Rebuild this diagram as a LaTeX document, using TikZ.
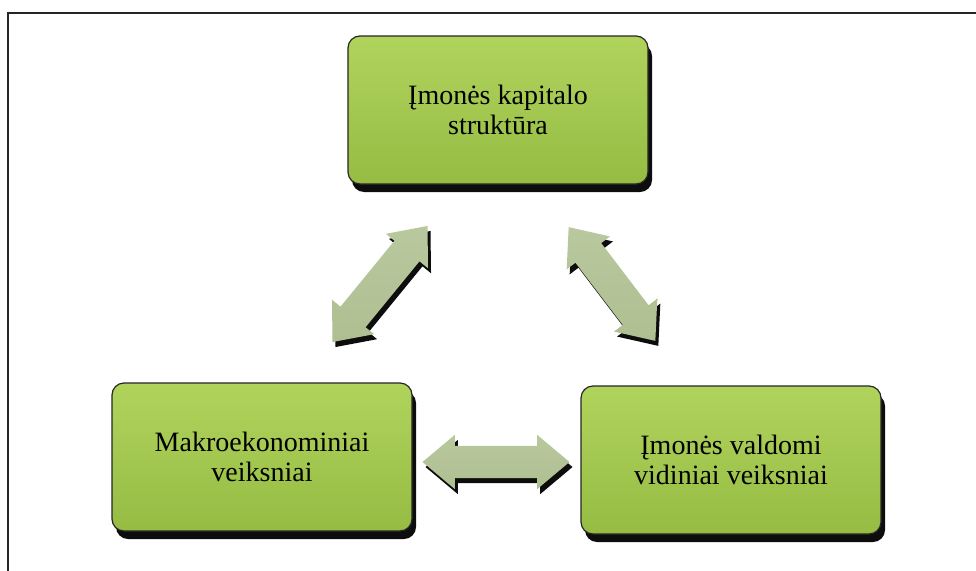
\documentclass[tikz,border=0pt]{standalone}
\usepackage{fontspec}
\setmainfont{Liberation Serif}
\newfontfamily\boxfont{Liberation Serif}
\usetikzlibrary{shapes.arrows,shadows}
\definecolor{boxtop}{HTML}{B0D35C}
\definecolor{boxmid}{HTML}{A5CA51}
\definecolor{boxbot}{HTML}{96BC44}
\definecolor{arrtop}{HTML}{B9C89E}
\definecolor{arrmid}{HTML}{E6EED8}
\definecolor{arrbot}{HTML}{AEBF91}
\begin{document}
\begin{tikzpicture}[x=1pt,y=-1pt,
  factor/.style={draw=black!85, line width=1.2pt, rounded corners=12pt,
    minimum width=300pt, minimum height=148pt, align=center,
    font=\boxfont\fontsize{28}{30}\selectfont,
    top color=boxtop, middle color=boxmid, bottom color=boxbot,
    drop shadow={shadow xshift=4pt, shadow yshift=-8pt, fill=black, opacity=0.95}},
  fat/.style={double arrow, double arrow head extend=11pt, double arrow tip angle=80,
    inner xsep=0pt, inner ysep=16pt, draw=none,
    top color=arrtop, middle color=arrmid, bottom color=arrbot,
    drop shadow={shadow xshift=3pt, shadow yshift=-5pt, fill=black, opacity=0.95}}]
\useasboundingbox (0,0) rectangle (976,570);
\fill[white] (0,0) rectangle (976,570);
\draw[line width=2.6pt, black!85] (8,575) -- (8,13) -- (985,13);
\node[factor] (top) at (498,110) {Įmonės kapitalo\\struktūra};
\node[factor] (left) at (262,457) {Makroekonominiai\\veiksniai};
\node[factor] (right) at (731,460) {Įmonės valdomi\\vidiniai veiksniai};
\node[fat, minimum height=150pt, rotate=50.7] (a1) at (380,284) {};
\node[fat, minimum height=143pt, rotate=-52.7] (a2) at (612,284) {};
\node[fat, minimum height=147pt] (a3) at (496,462) {};
\end{tikzpicture}
\end{document}
